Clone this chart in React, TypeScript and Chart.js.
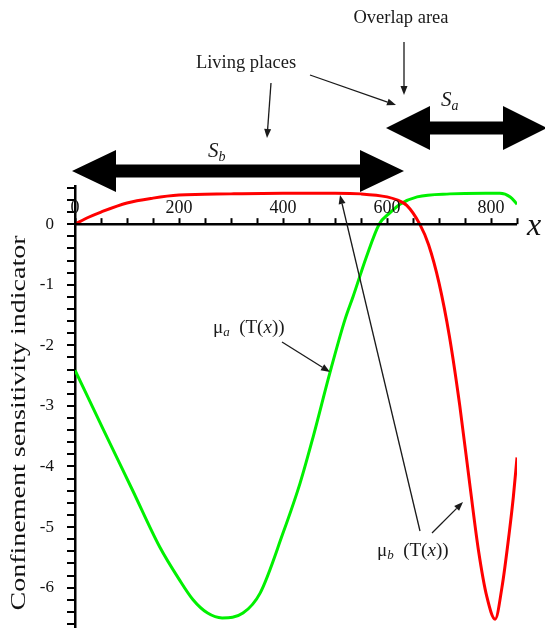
import React, { useEffect, useRef } from "react";
import { Chart, registerables } from "chart.js";

Chart.register(...registerables);

// ---- data ----
const muBX = [0, 25, 50, 100, 150, 200, 300, 400, 500, 550, 600, 619, 638, 663, 680, 700, 720, 740, 760, 776, 792, 808, 821, 835, 843, 850];
const muBY = [0, 0.11, 0.2, 0.35, 0.43, 0.48, 0.5, 0.51, 0.51, 0.5, 0.45, 0.4, 0.31, 0, -0.34, -0.97, -1.85, -3.0, -4.35, -5.39, -6.15, -6.52, -6.0, -5.1, -4.5, -3.85];

const muAX = [0, 55, 110, 163, 200, 227, 255, 283, 323, 356, 400, 433, 458, 490, 519, 535, 560, 585, 606, 625, 658, 721, 790, 817, 837, 850];
const muAY = [-2.41, -3.4, -4.38, -5.33, -5.86, -6.2, -6.42, -6.5, -6.42, -6.09, -5.1, -4.27, -3.51, -2.46, -1.58, -1.19, -0.55, 0, 0.19, 0.33, 0.45, 0.5, 0.51, 0.51, 0.45, 0.33];

const xTickLabels = [0, 200, 400, 600, 800];
const xMinorStep = 50;
const xMin = 0;
const xMax = 850;
const yMin = -6.65;
const yMax = 0.63;
const yTickStep = 0.2;

const SERIF = '"Liberation Serif", "Times New Roman", serif';

function drawArrow(ctx: CanvasRenderingContext2D, x1: number, y1: number, x2: number, y2: number, head = 9, hw = 3.5) {
  const a = Math.atan2(y2 - y1, x2 - x1);
  const bx = x2 - head * Math.cos(a);
  const by = y2 - head * Math.sin(a);
  ctx.beginPath();
  ctx.moveTo(x1, y1);
  ctx.lineTo(bx, by);
  ctx.stroke();
  ctx.beginPath();
  ctx.moveTo(x2, y2);
  ctx.lineTo(bx + hw * Math.sin(a), by - hw * Math.cos(a));
  ctx.lineTo(bx - hw * Math.sin(a), by + hw * Math.cos(a));
  ctx.closePath();
  ctx.fill();
}

function drawDoubleArrow(ctx: CanvasRenderingContext2D, xl: number, xr: number, yc: number, headLen: number, headHalf: number, shaftHalf: number) {
  ctx.beginPath();
  ctx.moveTo(xl, yc);
  ctx.lineTo(xl + headLen, yc - headHalf);
  ctx.lineTo(xl + headLen, yc - shaftHalf);
  ctx.lineTo(xr - headLen, yc - shaftHalf);
  ctx.lineTo(xr - headLen, yc - headHalf);
  ctx.lineTo(xr, yc);
  ctx.lineTo(xr - headLen, yc + headHalf);
  ctx.lineTo(xr - headLen, yc + shaftHalf);
  ctx.lineTo(xl + headLen, yc + shaftHalf);
  ctx.lineTo(xl + headLen, yc + headHalf);
  ctx.closePath();
  ctx.fill();
}

type Run = { t: string; font: string; dy?: number };
function drawRuns(ctx: CanvasRenderingContext2D, runs: Run[], x: number, y: number) {
  let cx = x;
  ctx.textAlign = "left";
  ctx.textBaseline = "alphabetic";
  for (const r of runs) {
    ctx.font = r.font;
    ctx.fillText(r.t, cx, y + (r.dy || 0));
    cx += ctx.measureText(r.t).width;
  }
}

const customAxesPlugin = {
  id: "customAxes",
  afterDraw(chart: any) {
    const ctx: CanvasRenderingContext2D = chart.ctx;
    const xs = chart.scales.x;
    const ys = chart.scales.y;
    const y0 = ys.getPixelForValue(0);
    ctx.save();
    // x axis at y = 0
    ctx.strokeStyle = "#000";
    ctx.fillStyle = "#111";
    ctx.lineWidth = 2.5;
    ctx.beginPath();
    ctx.moveTo(xs.getPixelForValue(xMin), y0);
    ctx.lineTo(xs.getPixelForValue(xMax), y0);
    ctx.stroke();
    ctx.lineWidth = 2;
    for (let v = xMin; v <= xMax + 1e-9; v += xMinorStep) {
      const px = Math.round(xs.getPixelForValue(v)) + 0.5;
      ctx.beginPath();
      ctx.moveTo(px, y0);
      ctx.lineTo(px, y0 - 6);
      ctx.stroke();
    }
    ctx.font = `18px ${SERIF}`;
    ctx.textAlign = "center";
    ctx.textBaseline = "alphabetic";
    for (const v of xTickLabels) {
      ctx.fillText(String(v), xs.getPixelForValue(v), y0 - 11);
    }
    ctx.font = `italic 32px ${SERIF}`;
    ctx.textAlign = "left";
    ctx.fillText("x", xs.getPixelForValue(xMax) + 10, y0 + 11);

    // y axis title (stretched along its length like the reference)
    ctx.save();
    ctx.translate(20, 423);
    ctx.rotate(-Math.PI / 2);
    ctx.font = `20px ${SERIF}`;
    const title = "Confinement sensitivity indicator";
    const w = ctx.measureText(title).width;
    ctx.scale(375 / w, 1);
    ctx.textAlign = "center";
    ctx.textBaseline = "middle";
    ctx.fillText(title, 0, 0);
    ctx.restore();

    // annotations
    ctx.fillStyle = "#000";
    drawDoubleArrow(ctx, 72, 404, 171, 44, 21, 6.5);
    drawDoubleArrow(ctx, 386, 547, 128, 44, 22, 6.5);

    ctx.fillStyle = "#1a1a1a";
    ctx.textAlign = "center";
    ctx.textBaseline = "middle";
    ctx.font = `18.5px ${SERIF}`;
    ctx.fillText("Overlap area", 401, 18);
    ctx.fillText("Living places", 246, 63);

    drawRuns(ctx, [
      { t: "S", font: `italic 21px ${SERIF}` },
      { t: "b", font: `italic 14px ${SERIF}`, dy: 4 },
    ], 208, 157);
    drawRuns(ctx, [
      { t: "S", font: `italic 21px ${SERIF}` },
      { t: "a", font: `italic 14px ${SERIF}`, dy: 4 },
    ], 441, 106);

    ctx.strokeStyle = "#1a1a1a";
    ctx.fillStyle = "#1a1a1a";
    ctx.lineWidth = 1.3;
    drawArrow(ctx, 404, 42, 404, 95);
    drawArrow(ctx, 310, 75, 396, 105);
    drawArrow(ctx, 271, 83, 267, 138);
    drawArrow(ctx, 282, 342, 330, 372);
    drawArrow(ctx, 420, 531, 340, 195);
    drawArrow(ctx, 432, 533, 463, 502);

    const lab = (sub: string): Run[] => [
      { t: "\u03bc", font: `19px ${SERIF}` },
      { t: sub, font: `italic 13px ${SERIF}`, dy: 3 },
      { t: "  (T(", font: `19px ${SERIF}` },
      { t: "x", font: `italic 19px ${SERIF}` },
      { t: "))", font: `19px ${SERIF}` },
    ];
    drawRuns(ctx, lab("a"), 213, 333);
    drawRuns(ctx, lab("b"), 377, 556);
    ctx.restore();
  },
};

export default function App() {
  const ref = useRef<HTMLCanvasElement | null>(null);
  useEffect(() => {
    if (!ref.current) return;
    const chart = new Chart(ref.current, {
      type: "line",
      data: {
        datasets: [
          {
            label: "\u03bc_b (T(x))",
            data: muBX.map((x, i) => ({ x, y: muBY[i] })),
            borderColor: "#ff0000",
            borderWidth: 3,
            pointRadius: 0,
            cubicInterpolationMode: "monotone",
            fill: false,
          },
          {
            label: "\u03bc_a (T(x))",
            data: muAX.map((x, i) => ({ x, y: muAY[i] })),
            borderColor: "#00f000",
            borderWidth: 3,
            pointRadius: 0,
            cubicInterpolationMode: "monotone",
            fill: false,
          },
        ],
      },
      options: {
        animation: false,
        responsive: true,
        maintainAspectRatio: false,
        devicePixelRatio: 1,
        layout: { padding: { top: 186, right: 28, bottom: 3, left: 0 } },
        plugins: { legend: { display: false }, tooltip: { enabled: false } },
        scales: {
          x: { type: "linear", min: xMin, max: xMax, display: false },
          y: {
            type: "linear",
            min: yMin,
            max: yMax,
            afterFit: (s: any) => {
              s.width = 75;
              s.paddingTop = 0;
              s.paddingBottom = 0;
            },
            border: { display: true, color: "#000", width: 2.5 },
            grid: { display: true, drawOnChartArea: false, drawTicks: true, tickLength: 8, color: "#000", lineWidth: 2 },
            ticks: {
              stepSize: yTickStep,
              includeBounds: false,
              autoSkip: false,
              padding: 13,
              color: "#111",
              font: { family: SERIF, size: 17 },
              callback: (v: any) => {
                const n = Number(v);
                return Math.abs(n - Math.round(n)) < 1e-6 ? String(Math.round(n)) : "";
              },
            },
          },
        },
      },
      plugins: [customAxesPlugin],
    } as any);
    return () => chart.destroy();
  }, []);
  return (
    <div style={{ position: "absolute", left: 0, top: 0, width: 545, height: 630, background: "#fff" }}>
      <canvas ref={ref} />
    </div>
  );
}
